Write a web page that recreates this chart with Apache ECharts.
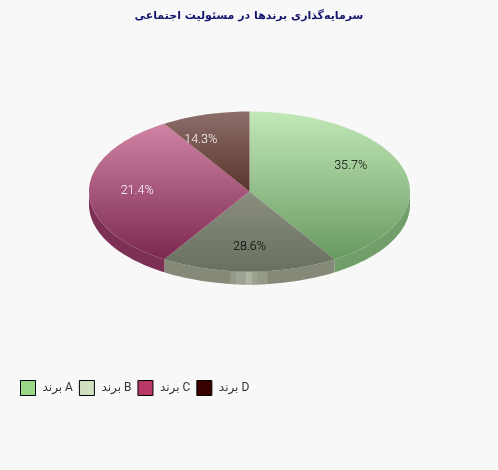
<!DOCTYPE html>
<html><head><meta charset="utf-8">
<style>html,body{margin:0;padding:0;background:#f8f8f8}#c{width:498px;height:470px}</style>
<script src="https://cdn.jsdelivr.net/npm/echarts@6/dist/echarts.min.js"></script>
</head><body><div id="c"></div>
<script>
const titleText = 'سرمایه‌گذاری برندها در مسئولیت اجتماعی';
const brands = ['برند A', 'برند B', 'برند C', 'برند D'];
const shares = [35.7, 28.6, 21.4, 14.3];
const legendColors = ['#98d888', '#d0e0c0', '#b83868', '#380000'];
const topStops = [['#c2e8b8', '#689a60'], ['#8a8e7e', '#687060'], ['#d084a4', '#7c2850'], ['#8c6e6a', '#5a342c']];
const sideColors = ['#729e6a', '#858a78', '#7c3054', '#5a342c'];
const labelColors = ['#000000', '#000000', '#ffffff', '#ffffff'];
const highlightBands = [[-19, -14, '#959a88'], [-14, -4, '#9da392'], [-4, 3, '#adb39f'], [3, 8, '#9da392'], [8, 18, '#959a88']];

const CX = 249.5, CY = 191.5, RX = 160.5, RY = 80, DEPTH = 13, LABEL_K = 0.7;
const rad = d => d * Math.PI / 180;
const total = shares.reduce((a, b) => a + b, 0);
const cumBefore = i => shares.slice(0, i).reduce((a, b) => a + b, 0);
// rays keep their true screen angle and are cut by the ellipse
const screenToParam = d => {
  let t = Math.atan2(RY * Math.sin(rad(d)), RX * Math.cos(rad(d))) * 180 / Math.PI;
  return t < 0 ? t + 360 : t;
};
const pt = (t, dy) => [CX + RX * Math.sin(rad(t)), CY - RY * Math.cos(rad(t)) + (dy || 0)];
const arc = (a, b, dy) => {
  const n = Math.max(2, Math.ceil((b - a) / 1.5)), out = [];
  for (let i = 0; i <= n; i++) out.push(pt(a + (b - a) * i / n, dy));
  return out;
};
const renderSlice = idx => (params, api) => {
  const value = api.value(0);
  const startDeg = cumBefore(idx) / total * 360;
  const endDeg = startDeg + value / total * 360;
  const t1 = startDeg === 0 ? 0 : screenToParam(startDeg);
  const t2 = Math.abs(endDeg - 360) < 0.01 ? 360 : screenToParam(endDeg);
  const children = [];
  const a = Math.max(t1, 90), b = Math.min(t2, 270);
  if (b > a) {
    children.push({
      type: 'polygon',
      shape: { points: arc(a, b, 0).concat(arc(a, b, DEPTH).reverse()) },
      style: { fill: sideColors[idx] }
    });
    if (idx === 1) {
      highlightBands.forEach(h => {
        const ta = 180 - Math.asin(h[0] / RX) * 180 / Math.PI;
        const tb = 180 - Math.asin(h[1] / RX) * 180 / Math.PI;
        children.push({
          type: 'polygon',
          shape: { points: arc(tb, ta, 0).concat(arc(tb, ta, DEPTH).reverse()) },
          style: { fill: h[2] }
        });
      });
    }
  }
  children.push({
    type: 'polygon',
    shape: { points: [[CX, CY]].concat(arc(t1, t2, 0)) },
    style: {
      fill: new echarts.graphic.LinearGradient(0, 0, 0, 1, [
        { offset: 0, color: topStops[idx][0] },
        { offset: 1, color: topStops[idx][1] }
      ]),
      stroke: null
    }
  });
  const mid = (startDeg + endDeg) / 2;
  children.push({
    type: 'text',
    z2: 10,
    style: {
      text: value.toFixed(1) + '%',
      x: CX + LABEL_K * RX * Math.sin(rad(mid)),
      y: CY - LABEL_K * RY * Math.cos(rad(mid)) - 1,
      align: 'center', verticalAlign: 'middle',
      fill: labelColors[idx],
      font: '300 12.5px Roboto, sans-serif'
    }
  });
  return { type: 'group', children };
};

const chart = echarts.init(document.getElementById('c'), null, { renderer: 'canvas' });
chart.setOption({
  animation: false,
  backgroundColor: '#f8f8f8',
  title: {
    text: titleText, left: 'center', top: 6,
    textStyle: { fontSize: 11, fontWeight: 'bold', color: '#14146e', fontFamily: '"DejaVu Sans", sans-serif' }
  },
  legend: {
    data: brands, left: 15, top: 375, orient: 'horizontal',
    icon: 'rect', itemWidth: 15, itemHeight: 15, itemGap: 6,
    itemStyle: { borderColor: '#000', borderWidth: 1 },
    textStyle: { fontSize: 12, color: '#333', padding: [0, 0, 5, 2], fontFamily: 'Roboto, "Noto Sans", "DejaVu Sans", sans-serif' }
  },
  series: brands.map((name, i) => ({
    type: 'custom', name, coordinateSystem: 'none',
    itemStyle: { color: legendColors[i] },
    silent: true,
    data: [[shares[i]]],
    renderItem: renderSlice(i)
  }))
});
</script></body></html>
